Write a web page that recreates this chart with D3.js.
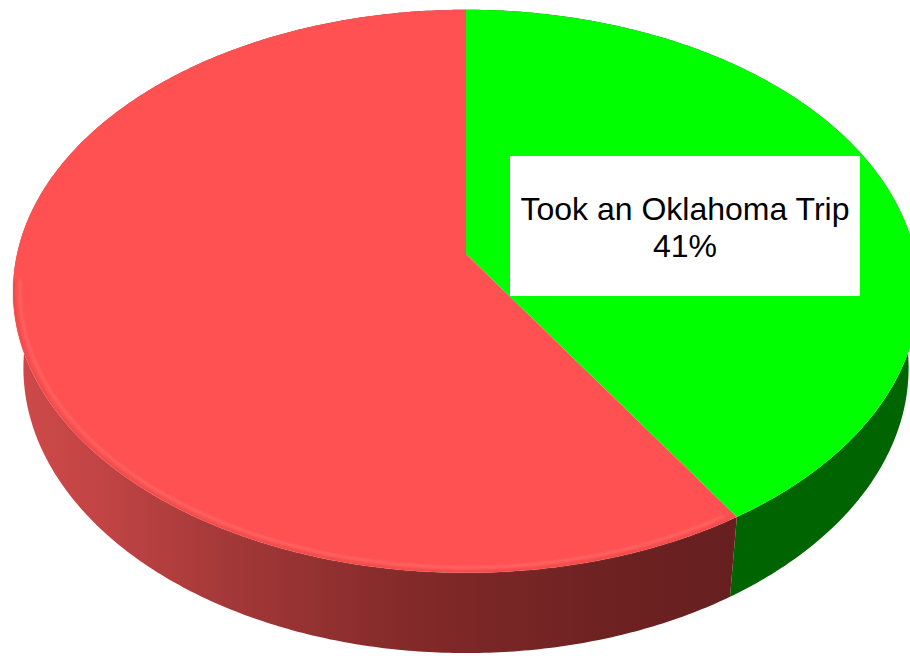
<!DOCTYPE html>
<html>
<head>
<meta charset="utf-8">
<script src="https://cdn.jsdelivr.net/npm/d3@7"></script>
<style>
  html, body { margin: 0; padding: 0; background: #ffffff; }
  svg { display: block; }
</style>
</head>
<body>
<svg id="chart" width="910" height="656"></svg>
<script>
// Survey split shown as a tilted 3D pie
const categories = ["Took an Oklahoma Trip", "Did Not Take an Oklahoma Trip"];
const values = [41, 59];
const topColors = ["#00ff00", "#ff5151"];
const sideColors = ["#006400", null]; // red side uses a shaded gradient
const showLabel = [true, false];

const svg = d3.select("#chart");

// Perspective camera for the disc (radius 1, thickness in radius units)
const cx = 466, cy = 254;
const tilt = Math.asin(0.616);
const sinP = Math.sin(tilt), cosP = Math.cos(tilt);
const D = 5.95;           // camera distance
const F = 449 * D;        // focal scale
const thick = 0.223;      // disc thickness

function proj(t, y, r = 1) {
  const X = r * Math.sin(t), Z = r * Math.cos(t);
  const up = Z * sinP + y * cosP;
  const depth = D + Z * cosP - y * sinP;
  return [cx + F * X / depth, cy - F * up / depth];
}

function arcPoints(a0, a1, y, r = 1) {
  const n = Math.max(2, Math.ceil(Math.abs(a1 - a0) / 0.01));
  return d3.range(n + 1).map(i => proj(a0 + (a1 - a0) * i / n, y, r));
}

const pie = d3.pie().sort(null).value(d => d.value).startAngle(0).endAngle(2 * Math.PI);
const data = categories.map((c, i) => ({ name: c, value: values[i], i }));
const arcs = pie(data);

const defs = svg.append("defs");
const redSide = defs.append("linearGradient")
  .attr("id", "redSide").attr("gradientUnits", "userSpaceOnUse")
  .attr("x1", 13).attr("y1", 0).attr("x2", 740).attr("y2", 0);
[[0, "#cf4a4a"], [0.12, "#c24444"], [0.3, "#a33838"], [0.55, "#832929"], [0.8, "#6f2222"], [1, "#661f1f"]]
  .forEach(([o, c]) => redSide.append("stop").attr("offset", o).attr("stop-color", c));

defs.append("filter").attr("id", "soft").append("feGaussianBlur").attr("stdDeviation", 1.2);

const line = d3.line();

// Side walls (rear portions are covered by the top faces drawn afterwards)
const sides = svg.append("g");
arcs.forEach(a => {
  const top = arcPoints(a.startAngle, a.endAngle, 0);
  const bot = arcPoints(a.endAngle, a.startAngle, -thick);
  sides.append("path")
    .attr("d", line(top.concat(bot)) + "Z")
    .attr("fill", sideColors[a.index] || "url(#redSide)");
});

// Top faces
const tops = svg.append("g");
arcs.forEach(a => {
  const pts = [proj(0, 0, 0)].concat(arcPoints(a.startAngle, a.endAngle, 0));
  tops.append("path")
    .attr("d", line(pts) + "Z")
    .attr("fill", topColors[a.index]);
});

// Soft bevel along the front rim of the red face
const rim = svg.append("g").attr("filter", "url(#soft)");
const redArc = arcs[1];
const rimStart = Math.max(redArc.startAngle, Math.PI * 0.55);
const rimEnd = Math.min(redArc.endAngle, Math.PI * 1.47);
rim.append("path")
  .attr("d", line(arcPoints(rimStart + 0.02, rimEnd, 0, 0.985)))
  .attr("fill", "none").attr("stroke", "#ff7a7a").attr("stroke-width", 2).attr("opacity", 0.6);
rim.append("path")
  .attr("d", line(arcPoints(rimStart + 0.02, rimEnd, 0, 0.997)))
  .attr("fill", "none").attr("stroke", "#d84444").attr("stroke-width", 2).attr("opacity", 0.5);

// Data label
arcs.forEach(a => {
  if (!showLabel[a.index]) return;
  const g = svg.append("g");
  const bx = 510, by = 156, bw = 350, bh = 140;
  g.append("rect").attr("x", bx).attr("y", by).attr("width", bw).attr("height", bh).attr("fill", "#ffffff");
  const t = g.append("text")
    .attr("text-anchor", "middle")
    .attr("font-family", "'Liberation Sans', Arial, sans-serif")
    .attr("font-size", 32)
    .attr("fill", "#000000");
  t.append("tspan").attr("x", bx + bw / 2).attr("y", 220).text(a.data.name);
  t.append("tspan").attr("x", bx + bw / 2).attr("y", 257).text(`${a.data.value}%`);
});
</script>
</body>
</html>
